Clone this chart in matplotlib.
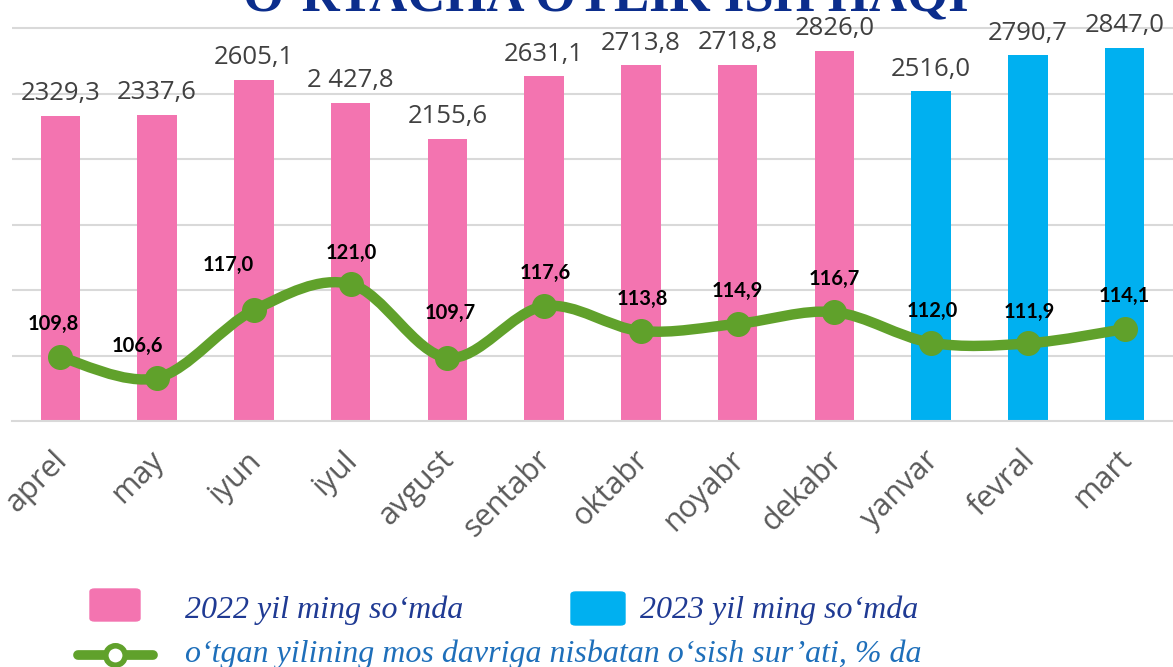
import numpy as np
import matplotlib
matplotlib.use("Agg")
import matplotlib.pyplot as plt
import matplotlib.transforms as mtransforms
from matplotlib.path import Path
from matplotlib.patches import PathPatch, FancyBboxPatch
from matplotlib.lines import Line2D

# ---- Data ----
months = ["aprel", "may", "iyun", "iyul", "avgust", "sentabr",
          "oktabr", "noyabr", "dekabr", "yanvar", "fevral", "mart"]
wages = [2329.3, 2337.6, 2605.1, 2427.8, 2155.6, 2631.1,
         2713.8, 2718.8, 2826.0, 2516.0, 2790.7, 2847.0]
wage_labels = ["2329,3", "2337,6", "2605,1", "2 427,8", "2155,6", "2631,1",
               "2713,8", "2718,8", "2826,0", "2516,0", "2790,7", "2847,0"]
years = [2022] * 9 + [2023] * 3
growth = [109.8, 106.6, 117.0, 121.0, 109.7, 117.6,
          113.8, 114.9, 116.7, 112.0, 111.9, 114.1]
growth_labels = ["109,8", "106,6", "117,0", "121,0", "109,7", "117,6",
                 "113,8", "114,9", "116,7", "112,0", "111,9", "114,1"]

# label offsets for the line (pixels, as placed in the original)
label_dx = [-7, -20, -26, 1, 3, 1, 1, 0, 0, 1, 1, 0]
label_dy = [33, 32, 45, 31, 45, 33, 32, 33, 33, 32, 31, 33]

PINK = "#f374b0"
BLUE = "#00b0f0"
GREEN = "#60a12b"
GRID = "#d9d9d9"

W, H = 1173, 667
fig = plt.figure(figsize=(W / 100, H / 100), dpi=100)


def fx(px):
    return px / W


def fy(py):
    return 1 - py / H


ax = fig.add_axes([fx(12), fy(421), 1 - fx(12), 421 / H])
x = np.arange(len(months))
colors = [PINK if y == 2022 else BLUE for y in years]
bars = ax.bar(x, wages, width=0.41, color=colors, zorder=2)

ax.set_xlim(-0.5, len(months) - 0.5)
ax.set_ylim(0, 3000 * 421 / 393)
ax.set_yticks([])
for gv in np.arange(500, 3001, 500):
    ax.axhline(gv, color=GRID, lw=1.5, zorder=0)
for s in ["top", "right", "left"]:
    ax.spines[s].set_visible(False)
ax.spines["bottom"].set_color(GRID)
ax.spines["bottom"].set_linewidth(1.5)

ax.set_xticks(x)
ax.set_xticklabels(months, rotation=45, ha="right", rotation_mode="anchor",
                   fontsize=22, color="#595959", family="Open Sans")
ax.tick_params(axis="x", length=0, pad=17)
shift = mtransforms.ScaledTranslation(-8 / 100, 0, fig.dpi_scale_trans)
for t in ax.get_xticklabels():
    t.set_transform(t.get_transform() + shift)

for b, lab in zip(bars, wage_labels):
    ax.annotate(lab, (b.get_x() + b.get_width() / 2, b.get_height()),
                xytext=(0, 7), textcoords="offset points", ha="center",
                va="bottom", fontsize=18.5, color="#404040", family="Open Sans")

# ---- growth line (smoothed like Excel) ----
ax2 = ax.twinx()
ax2.set_ylim(100, 100 + 421 / 6.52)
ax2.axis("off")

pts = np.column_stack([x, growth]).astype(float)
verts = [pts[0]]
codes = [Path.MOVETO]
n = len(pts)
for i in range(n - 1):
    p0 = pts[i - 1] if i > 0 else pts[i]
    p1 = pts[i]
    p2 = pts[i + 1]
    p3 = pts[i + 2] if i + 2 < n else pts[i + 1]
    c1 = p1 + (p2 - p0) / 6
    c2 = p2 - (p3 - p1) / 6
    verts += [c1, c2, p2]
    codes += [Path.CURVE4] * 3
ax2.add_patch(PathPatch(Path(verts, codes), fill=False, edgecolor=GREEN,
                        lw=7.5, capstyle="round", joinstyle="round", zorder=3))
ax2.plot(x, growth, "o", color=GREEN, ms=17, zorder=4)

for xi, g, lab, dx, dy in zip(x, growth, growth_labels, label_dx, label_dy):
    ax2.annotate(lab, (xi, g), xytext=(dx * 0.72, dy * 0.72),
                 textcoords="offset points", ha="center", va="center",
                 fontsize=14.5, fontweight="bold", color="black",
                 family="Lato", zorder=5)

# ---- title (cut off at the top) ----
fig.text(fx(606), fy(10), "O‘RTACHA OYLIK ISH HAQI", ha="center", va="baseline",
         fontsize=38, fontweight="bold", family="Liberation Serif", color="#0b2d8c")

# ---- legend ----
fig.patches.append(FancyBboxPatch((fx(90), fy(621)), fx(50), 32 / H,
                                  boxstyle="round,pad=0,rounding_size=0.004",
                                  transform=fig.transFigure, color=PINK))
fig.patches.append(FancyBboxPatch((fx(571), fy(625)), fx(54), 33 / H,
                                  boxstyle="round,pad=0,rounding_size=0.004",
                                  transform=fig.transFigure, color=BLUE))
fig.lines.append(Line2D([fx(78), fx(153)], [fy(655), fy(655)],
                        transform=fig.transFigure, color=GREEN, lw=7,
                        solid_capstyle="round"))
fig.lines.append(Line2D([fx(115)], [fy(655)], transform=fig.transFigure,
                        marker="o", ms=14, mfc="white", mec=GREEN, mew=4))

leg_font = dict(fontsize=23, style="italic", family="Liberation Serif", va="baseline")
fig.text(fx(185), fy(618), "2022 yil ming so‘mda", color="#1f3a93", **leg_font)
fig.text(fx(640), fy(618), "2023 yil ming so‘mda", color="#1f3a93", **leg_font)
fig.text(fx(185), fy(662), "o‘tgan yilining mos davriga nisbatan o‘sish sur’ati, % da",
         color="#1e6fba", **leg_font)

fig.savefig("out.png", dpi=100)
